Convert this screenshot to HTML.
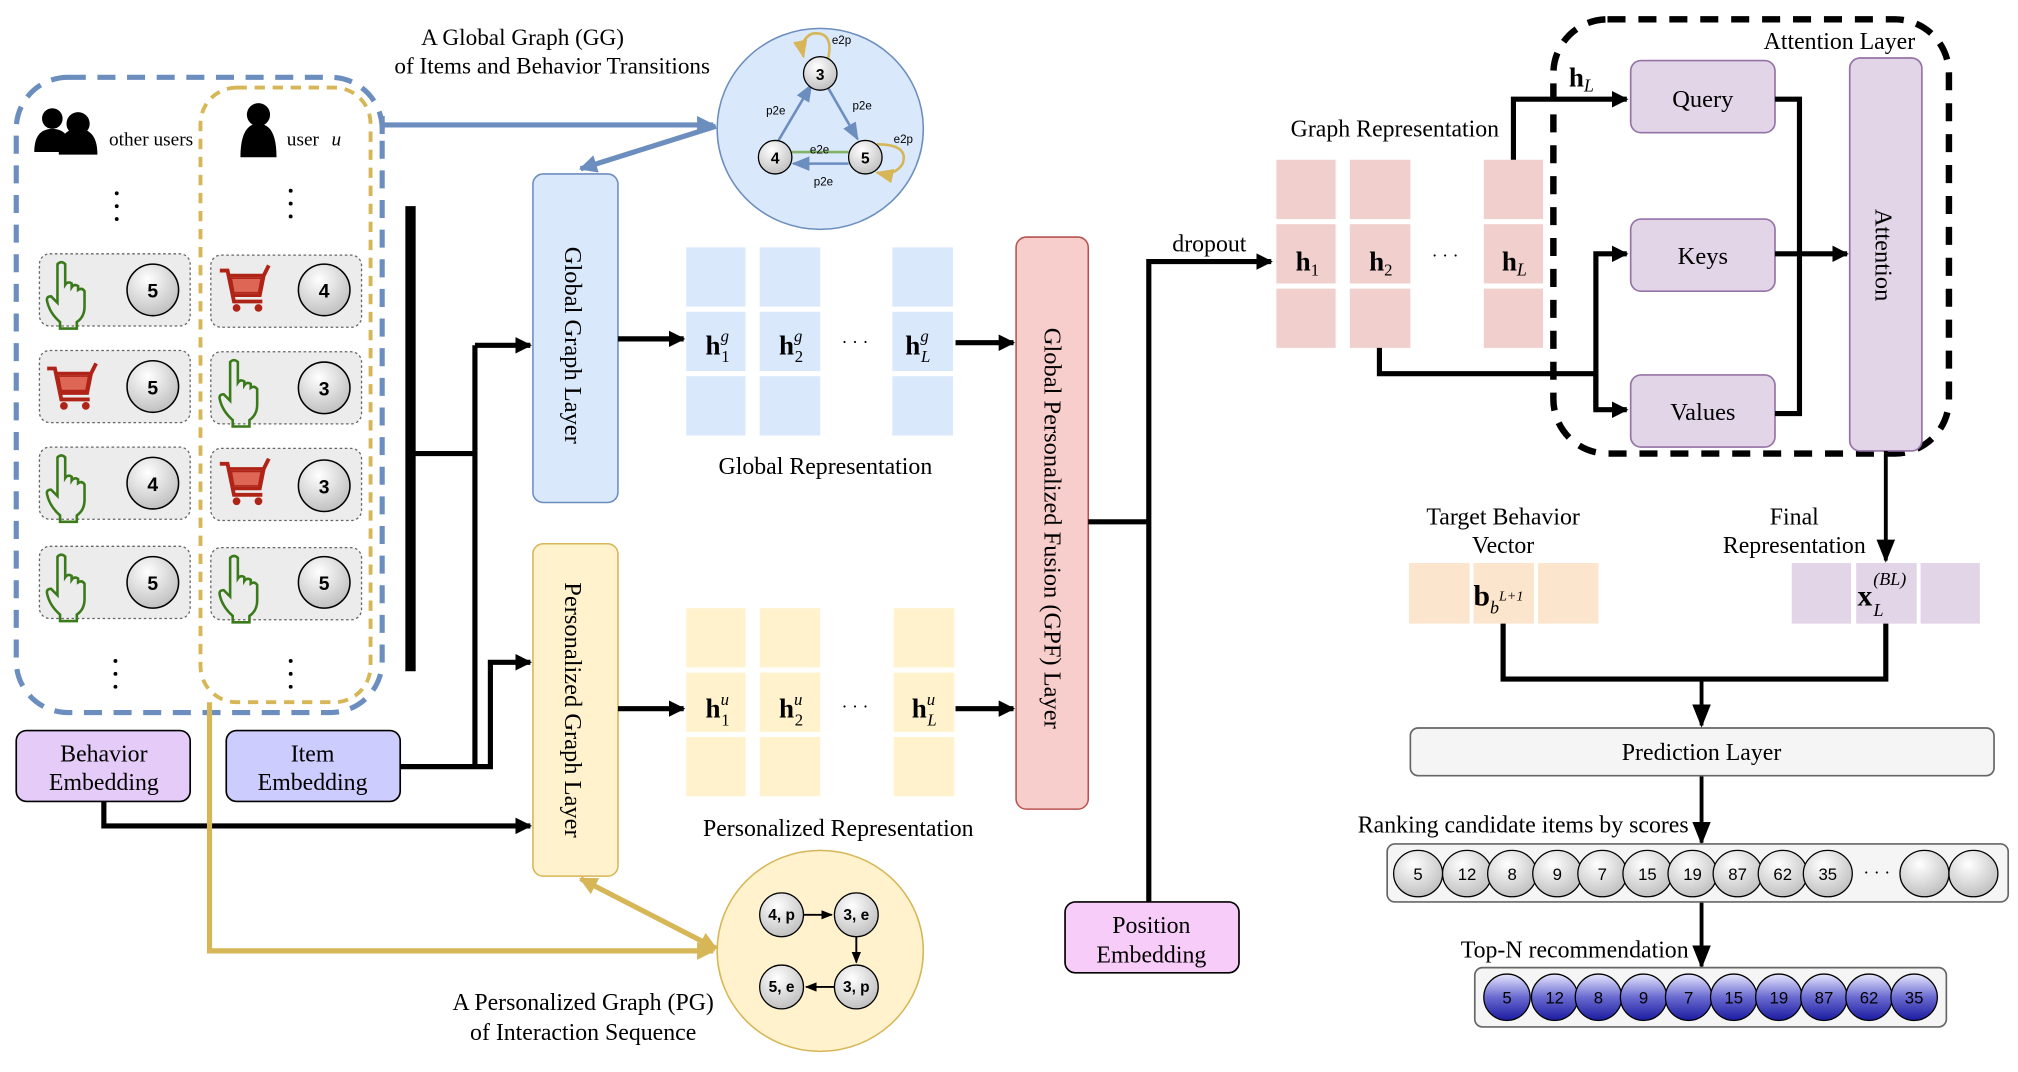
<!DOCTYPE html>
<html><head><meta charset="utf-8"><style>
html,body{margin:0;padding:0;background:#fff;}
svg{display:block;}
text{font-family:"Liberation Serif",serif;fill:#000;}
.s{font-family:"Liberation Sans",sans-serif;}
</style></head><body>
<svg width="2018" height="1072" viewBox="0 0 1565 832" xmlns="http://www.w3.org/2000/svg">
<defs>
<marker id="ab" viewBox="0 0 10 10" refX="9" refY="5" markerWidth="3.2" markerHeight="3.2" orient="auto"><path d="M0,0L10,5L0,10z" fill="#000"/></marker>
<marker id="as" viewBox="0 0 10 10" refX="9" refY="5" markerWidth="6" markerHeight="6" orient="auto"><path d="M0,1L10,5L0,9z" fill="#000"/></marker>
<marker id="abl" viewBox="0 0 10 10" refX="9" refY="5" markerWidth="3.5" markerHeight="3.5" orient="auto"><path d="M0,0L10,5L0,10z" fill="#6c8ebf"/></marker>
<marker id="ayl" viewBox="0 0 10 10" refX="9" refY="5" markerWidth="3.5" markerHeight="3.5" orient="auto-start-reverse"><path d="M0,0L10,5L0,10z" fill="#d6b656"/></marker>
<marker id="sb" viewBox="0 0 10 10" refX="9" refY="5" markerWidth="7" markerHeight="7" orient="auto"><path d="M0,1L10,5L0,9z" fill="#6c8ebf"/></marker>
<marker id="sy" viewBox="0 0 10 10" refX="9" refY="5" markerWidth="7" markerHeight="7" orient="auto"><path d="M0,1L10,5L0,9z" fill="#d6b656"/></marker>
<radialGradient id="gg" cx="0.4" cy="0.3" r="0.8"><stop offset="0" stop-color="#fff"/><stop offset="1" stop-color="#b8b8b8"/></radialGradient>
<linearGradient id="bg" x1="0" y1="0" x2="0" y2="1"><stop offset="0" stop-color="#e8e8ff"/><stop offset="0.5" stop-color="#6a6ad0"/><stop offset="1" stop-color="#1a1aa0"/></linearGradient>
<g id="hand"><path d="M8,3 q3,-3 6,0 v16 q2,-3 5,-1 v3 q2,-3 5,-1 v3 q3,-2 5,1 v12 q0,8 -6,12 v5 h-13 v-5 q-8,-7 -10,-16 q-1,-4 3,-4 l5,5z" fill="none" stroke="#3a7a1a" stroke-width="2"/></g>
<g id="cart"><path d="M0,4 h6 l5,24 h22 M7,8 h27 l-3,15 h-21" fill="none" stroke="#b02418" stroke-width="3"/><path d="M9,10 h23 l-2,11 h-19z" fill="#d65" stroke="#b02418"/><path d="M34,8 l4,-8" stroke="#b02418" stroke-width="3"/><circle cx="13" cy="33" r="3" fill="#b02418"/><circle cx="30" cy="33" r="3" fill="#b02418"/></g>
</defs>

<rect x="12" y="60" width="284" height="493" rx="40" fill="none" stroke="#6c8ebf" stroke-width="4" stroke-dasharray="14 9"/>
<rect x="155" y="68" width="132" height="477" rx="28" fill="none" stroke="#d6b656" stroke-width="3" stroke-dasharray="8 6"/>

<g fill="#000"><circle cx="40" cy="92" r="8"/><path d="M26,118 q0,-18 14,-18 q14,0 14,18z"/><circle cx="60" cy="96" r="9"/><path d="M45,120 q0,-20 15,-20 q15,0 15,20z"/>
<circle cx="200" cy="89" r="9"/><path d="M186,122 q0,-26 14,-26 q14,0 14,26z"/></g>
<text x="84" y="113" font-size="15">other users</text>
<text x="222" y="113" font-size="15">user <tspan font-style="italic" dx="6">u</tspan></text>
<g fill="#000"><circle cx="90" cy="150" r="1.5"/><circle cx="90" cy="160" r="1.5"/><circle cx="90" cy="170" r="1.5"/>
<circle cx="225" cy="148" r="1.5"/><circle cx="225" cy="158" r="1.5"/><circle cx="225" cy="168" r="1.5"/>
<circle cx="89" cy="513" r="1.5"/><circle cx="89" cy="523" r="1.5"/><circle cx="89" cy="533" r="1.5"/>
<circle cx="225" cy="513" r="1.5"/><circle cx="225" cy="523" r="1.5"/><circle cx="225" cy="533" r="1.5"/></g>

<g stroke="#666" stroke-dasharray="2 2" fill="#ececec">
<rect x="30" y="197" width="117" height="56" rx="8"/><rect x="163" y="198" width="117" height="56" rx="8"/>
<rect x="30" y="272" width="117" height="56" rx="8"/><rect x="163" y="273" width="117" height="56" rx="8"/>
<rect x="30" y="347" width="117" height="56" rx="8"/><rect x="163" y="348" width="117" height="56" rx="8"/>
<rect x="30" y="424" width="117" height="56" rx="8"/><rect x="163" y="425" width="117" height="56" rx="8"/>
</g>
<use href="#hand" x="36" y="202"/><use href="#cart" x="170" y="206"/>
<use href="#cart" x="36" y="282"/><use href="#hand" x="170" y="278"/>
<use href="#hand" x="36" y="352"/><use href="#cart" x="170" y="356"/>
<use href="#hand" x="36" y="429"/><use href="#hand" x="170" y="430"/>
<g stroke="#000" stroke-width="1.2" fill="url(#gg)">
<circle cx="118" cy="225" r="20"/><circle cx="251" cy="225" r="20"/>
<circle cx="118" cy="300" r="20"/><circle cx="251" cy="301" r="20"/>
<circle cx="118" cy="375" r="20"/><circle cx="251" cy="377" r="20"/>
<circle cx="118" cy="452" r="20"/><circle cx="251" cy="452" r="20"/></g>
<g class="s" font-size="15" font-weight="bold" text-anchor="middle">
<text class="s" x="118" y="231">5</text><text class="s" x="251" y="231">4</text>
<text class="s" x="118" y="306">5</text><text class="s" x="251" y="307">3</text>
<text class="s" x="118" y="381">4</text><text class="s" x="251" y="383">3</text>
<text class="s" x="118" y="458">5</text><text class="s" x="251" y="458">5</text></g>

<rect x="12" y="567" width="135" height="55" rx="8" fill="#e5ccf8" stroke="#000" stroke-width="1.3"/>
<text x="80" y="591" font-size="18.5" text-anchor="middle">Behavior</text><text x="80" y="613" font-size="18.5" text-anchor="middle">Embedding</text>
<rect x="175" y="567" width="135" height="55" rx="8" fill="#ccccff" stroke="#000" stroke-width="1.3"/>
<text x="242" y="591" font-size="18.5" text-anchor="middle">Item</text><text x="242" y="613" font-size="18.5" text-anchor="middle">Embedding</text>

<g stroke="#000" stroke-width="4" fill="none">
<line x1="318" y1="160" x2="318" y2="521" stroke-width="8"/>
<polyline points="318,352 368,352 368,595"/>
<polyline points="368,268 411,268" marker-end="url(#ab)"/>
<line x1="368" y1="268" x2="368" y2="352"/>
<polyline points="310,595 380,595 380,514 411,514" marker-end="url(#ab)"/>
<polyline points="80,622 80,641 411,641" marker-end="url(#ab)"/>
</g>
<polyline points="162,545 162,738 553,738" fill="none" stroke="#d6b656" stroke-width="4" marker-end="url(#ayl)"/>
<line x1="555" y1="736" x2="450" y2="682" stroke="#d6b656" stroke-width="4" marker-end="url(#ayl)" marker-start="url(#ayl)"/>
<line x1="296" y1="90" x2="296" y2="104" stroke="#6c8ebf" stroke-width="4"/>
<line x1="296" y1="97" x2="553" y2="97" stroke="#6c8ebf" stroke-width="4" marker-end="url(#abl)"/>
<line x1="555" y1="98" x2="450" y2="131" stroke="#6c8ebf" stroke-width="4" marker-end="url(#abl)"/>

<ellipse cx="636" cy="100" rx="80" ry="78" fill="#dae8fc" stroke="#6c8ebf" stroke-width="1.2"/>
<g stroke-width="2" fill="none">
<line x1="603" y1="110" x2="629" y2="66" stroke="#6c8ebf" marker-end="url(#sb)"/>
<line x1="642" y1="68" x2="665" y2="108" stroke="#6c8ebf" marker-end="url(#sb)"/>
<line x1="614" y1="118" x2="658" y2="118" stroke="#82b366"/>
<line x1="658" y1="127" x2="615" y2="127" stroke="#6c8ebf" marker-end="url(#sb)"/>
<path d="M642,46 q5,-22 -12,-20 q-10,4 -7,18" stroke="#d6b656" marker-end="url(#sy)"/>
<path d="M680,112 q25,0 20,15 q-6,10 -20,7" stroke="#d6b656" marker-end="url(#sy)"/>
</g>
<g stroke="#000" stroke-width="1" fill="url(#gg)"><circle cx="636" cy="57" r="13"/><circle cx="601" cy="122" r="13"/><circle cx="671" cy="122" r="13"/></g>
<g class="s" font-size="12" font-weight="bold" text-anchor="middle"><text class="s" x="636" y="62">3</text><text class="s" x="601" y="127">4</text><text class="s" x="671" y="127">5</text></g>
<g class="s" font-size="9"><text class="s" x="645" y="34">e2p</text><text class="s" x="594" y="89">p2e</text><text class="s" x="661" y="85">p2e</text><text class="s" x="628" y="119">e2e</text><text class="s" x="631" y="144">p2e</text><text class="s" x="693" y="111">e2p</text></g>
<text x="405" y="35" font-size="18" text-anchor="middle">A Global Graph (GG)</text>
<text x="428" y="57" font-size="18" text-anchor="middle">of Items and Behavior Transitions</text>

<rect x="413" y="135" width="66" height="255" rx="8" fill="#dae8fc" stroke="#6c8ebf" stroke-width="1.2"/>
<text transform="translate(438,268) rotate(90)" font-size="19" text-anchor="middle">Global Graph Layer</text>
<rect x="413" y="422" width="66" height="258" rx="8" fill="#fff2cc" stroke="#d6b656" stroke-width="1.2"/>
<text transform="translate(438,551) rotate(90)" font-size="19" text-anchor="middle">Personalized Graph Layer</text>

<g fill="#dae8fc">
<rect x="532" y="192" width="46" height="46"/><rect x="532" y="242" width="46" height="46"/><rect x="532" y="292" width="46" height="46"/>
<rect x="589" y="192" width="47" height="46"/><rect x="589" y="242" width="47" height="46"/><rect x="589" y="292" width="47" height="46"/>
<rect x="692" y="192" width="47" height="46"/><rect x="692" y="242" width="47" height="46"/><rect x="692" y="292" width="47" height="46"/></g>
<g font-size="21"><text x="547" y="275" font-weight="bold">h<tspan font-size="13" font-style="italic" font-weight="normal" dy="-10">g</tspan><tspan font-size="13" font-weight="normal" dx="-6" dy="16">1</tspan></text>
<text x="604" y="275" font-weight="bold">h<tspan font-size="13" font-style="italic" font-weight="normal" dy="-10">g</tspan><tspan font-size="13" font-weight="normal" dx="-6" dy="16">2</tspan></text>
<text x="702" y="275" font-weight="bold">h<tspan font-size="13" font-style="italic" font-weight="normal" dy="-10">g</tspan><tspan font-size="13" font-style="italic" font-weight="normal" dx="-6" dy="16">L</tspan></text></g>
<text x="663" y="270" font-size="14" text-anchor="middle">· · ·</text>
<text x="640" y="368" font-size="18.5" text-anchor="middle">Global Representation</text>

<g fill="#fff2cc">
<rect x="532" y="472" width="46" height="46"/><rect x="532" y="522" width="46" height="46"/><rect x="532" y="572" width="46" height="46"/>
<rect x="589" y="472" width="47" height="46"/><rect x="589" y="522" width="47" height="46"/><rect x="589" y="572" width="47" height="46"/>
<rect x="693" y="472" width="47" height="46"/><rect x="693" y="522" width="47" height="46"/><rect x="693" y="572" width="47" height="46"/></g>
<g font-size="21"><text x="547" y="557" font-weight="bold">h<tspan font-size="13" font-style="italic" font-weight="normal" dy="-10">u</tspan><tspan font-size="13" font-weight="normal" dx="-6" dy="16">1</tspan></text>
<text x="604" y="557" font-weight="bold">h<tspan font-size="13" font-style="italic" font-weight="normal" dy="-10">u</tspan><tspan font-size="13" font-weight="normal" dx="-6" dy="16">2</tspan></text>
<text x="707" y="557" font-weight="bold">h<tspan font-size="13" font-style="italic" font-weight="normal" dy="-10">u</tspan><tspan font-size="13" font-style="italic" font-weight="normal" dx="-6" dy="16">L</tspan></text></g>
<text x="663" y="553" font-size="14" text-anchor="middle">· · ·</text>
<text x="650" y="649" font-size="18.5" text-anchor="middle">Personalized Representation</text>

<g stroke="#000" stroke-width="4">
<line x1="479" y1="263" x2="530" y2="263" marker-end="url(#ab)"/>
<line x1="741" y1="266" x2="786" y2="266" marker-end="url(#ab)"/>
<line x1="479" y1="550" x2="530" y2="550" marker-end="url(#ab)"/>
<line x1="741" y1="550" x2="786" y2="550" marker-end="url(#ab)"/></g>

<ellipse cx="636" cy="738" rx="80" ry="78" fill="#fff2cc" stroke="#d6b656" stroke-width="1.2"/>
<g stroke="#000" stroke-width="1.5"><line x1="623" y1="710" x2="645" y2="710" marker-end="url(#as)"/><line x1="664" y1="727" x2="664" y2="747" marker-end="url(#as)"/><line x1="647" y1="766" x2="625" y2="766" marker-end="url(#as)"/></g>
<g stroke="#000" stroke-width="1" fill="url(#gg)"><circle cx="606" cy="710" r="17"/><circle cx="664" cy="710" r="17"/><circle cx="606" cy="766" r="17"/><circle cx="664" cy="766" r="17"/></g>
<g class="s" font-size="12" font-weight="bold" text-anchor="middle"><text class="s" x="606" y="714">4, p</text><text class="s" x="664" y="714">3, e</text><text class="s" x="606" y="770">5, e</text><text class="s" x="664" y="770">3, p</text></g>
<text x="452" y="784" font-size="18.5" text-anchor="middle">A Personalized Graph (PG)</text>
<text x="452" y="807" font-size="18.5" text-anchor="middle">of Interaction Sequence</text>

<rect x="788" y="184" width="56" height="444" rx="8" fill="#f8cecc" stroke="#b85450" stroke-width="1.2"/>
<text transform="translate(810,410) rotate(90)" font-size="19" text-anchor="middle">Global Personalized Fusion (GPF) Layer</text>
<g stroke="#000" stroke-width="4" fill="none"><polyline points="844,405 891,405"/><polyline points="891,700 891,203 986,203" marker-end="url(#ab)"/></g>
<text x="938" y="195" font-size="18.5" text-anchor="middle">dropout</text>
<rect x="826" y="700" width="135" height="55" rx="8" fill="#f8ccf9" stroke="#000" stroke-width="1.3"/>
<text x="893" y="724" font-size="18.5" text-anchor="middle">Position</text><text x="893" y="747" font-size="18.5" text-anchor="middle">Embedding</text>

<g fill="#f0cfcd">
<rect x="990" y="124" width="46" height="46"/><rect x="990" y="174" width="46" height="46"/><rect x="990" y="224" width="46" height="46"/>
<rect x="1047" y="124" width="47" height="46"/><rect x="1047" y="174" width="47" height="46"/><rect x="1047" y="224" width="47" height="46"/>
<rect x="1151" y="124" width="46" height="46"/><rect x="1151" y="174" width="46" height="46"/><rect x="1151" y="224" width="46" height="46"/></g>
<g font-size="21" font-weight="bold"><text x="1005" y="210">h<tspan font-size="13" font-weight="normal" dy="4">1</tspan></text>
<text x="1062" y="210">h<tspan font-size="13" font-weight="normal" dy="4">2</tspan></text>
<text x="1165" y="210">h<tspan font-size="14" font-style="italic" font-weight="normal" dy="4">L</tspan></text>
<text x="1217" y="67">h<tspan font-size="14" font-style="italic" font-weight="normal" dy="4">L</tspan></text></g>
<text x="1121" y="203" font-size="14" text-anchor="middle">· · ·</text>
<text x="1082" y="106" font-size="18.5" text-anchor="middle">Graph Representation</text>

<rect x="1205" y="15" width="307" height="337" rx="42" fill="none" stroke="#000" stroke-width="5" stroke-dasharray="14 10"/>
<text x="1427" y="38" font-size="18.5" text-anchor="middle">Attention Layer</text>
<g fill="#e1d5e7" stroke="#9673a6" stroke-width="1.3">
<rect x="1265" y="47" width="112" height="56" rx="8"/><rect x="1265" y="170" width="112" height="56" rx="8"/><rect x="1265" y="291" width="112" height="56" rx="8"/>
<rect x="1435" y="45" width="56" height="305" rx="8"/></g>
<text x="1321" y="83" font-size="19" text-anchor="middle">Query</text>
<text x="1321" y="205" font-size="19" text-anchor="middle">Keys</text>
<text x="1321" y="326" font-size="19" text-anchor="middle">Values</text>
<text transform="translate(1455,198) rotate(90)" font-size="19" text-anchor="middle">Attention</text>
<g stroke="#000" stroke-width="4" fill="none">
<polyline points="1174,124 1174,77 1262,77" marker-end="url(#ab)"/>
<polyline points="1070,270 1070,290 1238,290"/>
<polyline points="1238,318 1238,197 1262,197" marker-end="url(#ab)"/>
<polyline points="1238,290 1238,318 1262,318" marker-end="url(#ab)"/>
<polyline points="1377,77 1396,77 1396,321 1377,321"/>
<polyline points="1377,197 1433,197" marker-end="url(#ab)"/>
<line x1="1463" y1="350" x2="1463" y2="435" stroke-width="3" marker-end="url(#as)"/>
</g>

<text x="1166" y="407" font-size="18.5" text-anchor="middle">Target Behavior</text><text x="1166" y="429" font-size="18.5" text-anchor="middle">Vector</text>
<text x="1392" y="407" font-size="18.5" text-anchor="middle">Final</text><text x="1392" y="429" font-size="18.5" text-anchor="middle">Representation</text>
<g fill="#fce5cd"><rect x="1093" y="437" width="47" height="47"/><rect x="1143" y="437" width="47" height="47"/><rect x="1193" y="437" width="47" height="47"/></g>
<g fill="#e1d5e7"><rect x="1390" y="437" width="46" height="47"/><rect x="1440" y="437" width="47" height="47"/><rect x="1490" y="437" width="46" height="47"/></g>
<text x="1143" y="470" font-size="23" font-weight="bold">b<tspan font-size="14" font-style="italic" font-weight="normal" dy="6">b</tspan><tspan font-size="11" font-style="italic" font-weight="normal" dy="-10">L+1</tspan></text>
<text x="1441" y="470" font-size="23" font-weight="bold">x<tspan font-size="14" font-style="italic" font-weight="normal" dx="1" dy="8">L</tspan><tspan font-size="14" font-style="italic" font-weight="normal" dx="-8" dy="-24">(BL)</tspan></text>
<g stroke="#000" stroke-width="4" fill="none"><polyline points="1166,484 1166,527 1463,527 1463,484"/>
<line x1="1320" y1="527" x2="1320" y2="563" stroke-width="3" marker-end="url(#as)"/>
<line x1="1320" y1="602" x2="1320" y2="654" stroke-width="3" marker-end="url(#as)"/>
<line x1="1320" y1="700" x2="1320" y2="750" stroke-width="3" marker-end="url(#as)"/></g>
<rect x="1094" y="565" width="453" height="37" rx="6" fill="#f5f5f5" stroke="#666" stroke-width="1.3"/>
<text x="1320" y="590" font-size="18.5" text-anchor="middle">Prediction Layer</text>
<text x="1310" y="646" font-size="18.5" text-anchor="end">Ranking candidate items by scores</text>
<rect x="1076" y="655" width="482" height="45" rx="6" fill="#f5f5f5" stroke="#666" stroke-width="1.3"/>
<g stroke="#000" stroke-width="1" fill="url(#gg)">
<ellipse cx="1100" cy="678" rx="19" ry="18"/><ellipse cx="1138" cy="678" rx="19" ry="18"/><ellipse cx="1173" cy="678" rx="19" ry="18"/><ellipse cx="1208" cy="678" rx="19" ry="18"/><ellipse cx="1243" cy="678" rx="19" ry="18"/><ellipse cx="1278" cy="678" rx="19" ry="18"/><ellipse cx="1313" cy="678" rx="19" ry="18"/><ellipse cx="1348" cy="678" rx="19" ry="18"/><ellipse cx="1383" cy="678" rx="19" ry="18"/><ellipse cx="1418" cy="678" rx="19" ry="18"/><ellipse cx="1493" cy="678" rx="19" ry="18"/><ellipse cx="1531" cy="678" rx="19" ry="18"/></g>
<g class="s" font-size="13" text-anchor="middle">
<text class="s" x="1100" y="683">5</text><text class="s" x="1138" y="683">12</text><text class="s" x="1173" y="683">8</text><text class="s" x="1208" y="683">9</text><text class="s" x="1243" y="683">7</text><text class="s" x="1278" y="683">15</text><text class="s" x="1313" y="683">19</text><text class="s" x="1348" y="683">87</text><text class="s" x="1383" y="683">62</text><text class="s" x="1418" y="683">35</text></g>
<text x="1456" y="682" font-size="14" text-anchor="middle">· · ·</text>
<text x="1310" y="743" font-size="18.5" text-anchor="end">Top-N recommendation</text>
<rect x="1144" y="751" width="366" height="46" rx="6" fill="#f5f5f5" stroke="#666" stroke-width="1.3"/>
<g stroke="#000" stroke-width="1" fill="url(#bg)">
<ellipse cx="1169" cy="774" rx="18" ry="18"/><ellipse cx="1206" cy="774" rx="18" ry="18"/><ellipse cx="1240" cy="774" rx="18" ry="18"/><ellipse cx="1275" cy="774" rx="18" ry="18"/><ellipse cx="1310" cy="774" rx="18" ry="18"/><ellipse cx="1345" cy="774" rx="18" ry="18"/><ellipse cx="1380" cy="774" rx="18" ry="18"/><ellipse cx="1415" cy="774" rx="18" ry="18"/><ellipse cx="1450" cy="774" rx="18" ry="18"/><ellipse cx="1485" cy="774" rx="18" ry="18"/></g>
<g class="s" font-size="13" text-anchor="middle">
<text class="s" x="1169" y="779">5</text><text class="s" x="1206" y="779">12</text><text class="s" x="1240" y="779">8</text><text class="s" x="1275" y="779">9</text><text class="s" x="1310" y="779">7</text><text class="s" x="1345" y="779">15</text><text class="s" x="1380" y="779">19</text><text class="s" x="1415" y="779">87</text><text class="s" x="1450" y="779">62</text><text class="s" x="1485" y="779">35</text></g>
</svg>
</body></html>
